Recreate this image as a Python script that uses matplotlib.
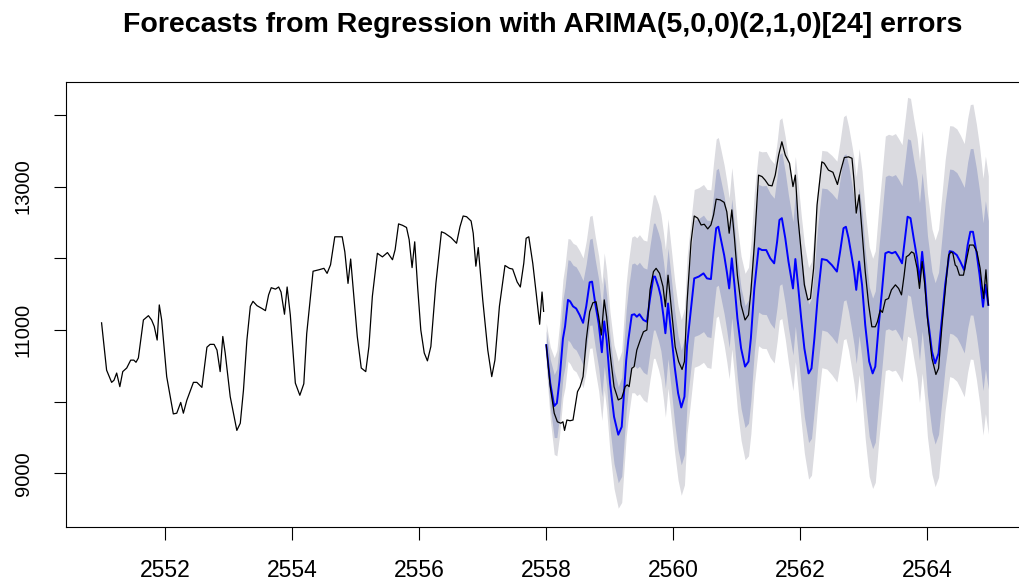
import numpy as np
import matplotlib
matplotlib.use("Agg")
import matplotlib.pyplot as plt

plt.rcParams['font.family'] = ['Liberation Sans', 'DejaVu Sans']

# hourly series, frequency 24 -> time = 2551 + hour/24
# history (training part) at its turning points
hist_hours = [0.0, 1.9, 3.8, 4.7, 5.7, 6.9, 8.0, 9.5, 11.0, 12.2,
              13.0, 13.9, 15.8, 17.7, 18.9, 19.9, 21.0, 21.8, 22.7, 24.6,
              27.1, 28.4, 29.9, 30.9, 32.2, 34.7, 36.0, 37.9, 39.8, 41.0,
              42.5, 43.6, 44.8, 45.8, 46.7, 48.6, 51.1, 52.4, 53.6, 54.9,
              56.2, 57.2, 58.7, 60.6, 61.9, 63.1, 64.1, 65.7, 66.9, 67.8,
              69.1, 70.1, 71.3, 73.2, 74.9, 76.4, 77.5, 79.9, 82.1, 84.0,
              85.2, 86.5, 88.1, 90.9, 91.9, 93.1, 94.1, 95.3, 96.6, 98.1,
              99.8, 101.0, 102.3, 104.2, 106.1, 108.0, 109.9, 110.9, 112.2, 113.7,
              115.2, 116.2, 117.3, 118.3, 119.4, 120.6, 121.9, 123.1, 124.4, 126.3,
              128.4, 129.7, 132.0, 134.1, 135.4, 136.6, 137.9, 139.6, 140.4, 141.4,
              142.3, 144.0, 145.9, 147.4, 148.6, 150.3, 152.4, 154.1, 155.3, 157.0,
              158.2, 159.5, 160.4, 161.4, 162.9, 164.2, 165.5, 166.4, 167.0]
hist_vals = [11100, 10440, 10270, 10300, 10400, 10210, 10420, 10470, 10580, 10580,
             10550, 10610, 11140, 11200, 11140, 11050, 10860, 11350, 11140, 10350,
             9830, 9840, 9990, 9840, 10020, 10270, 10270, 10200, 10760, 10800,
             10800, 10720, 10420, 10910, 10680, 10070, 9600, 9700, 10160, 10860,
             11330, 11400, 11340, 11300, 11270, 11490, 11590, 11570, 11600, 11530,
             11220, 11600, 11210, 10260, 10090, 10250, 10950, 11820, 11840, 11860,
             11790, 11910, 12300, 12300, 12090, 11650, 11990, 11470, 10910, 10470,
             10420, 10770, 11470, 12070, 12020, 12080, 11980, 12120, 12480, 12460,
             12430, 12260, 11870, 12230, 11600, 11000, 10680, 10570, 10770, 11650,
             12370, 12350, 12290, 12210, 12440, 12590, 12580, 12520, 12350, 11890,
             12150, 11420, 10720, 10350, 10580, 11330, 11900, 11860, 11850, 11670,
             11600, 11930, 12280, 12300, 11930, 11510, 11080, 11530, 11260]

# observed values over the forecast horizon
test_hours = [168.0, 169.5, 171.0, 172.2, 173.5, 174.3, 174.9, 175.8, 177.0, 178.1,
              178.9, 179.8, 180.8, 181.9, 183.1, 184.4, 185.6, 186.8, 187.8, 188.8,
              189.9, 190.8, 192.1, 193.6, 195.2, 196.5, 197.8, 198.6, 199.3, 200.3,
              201.2, 202.2, 203.5, 204.7, 206.0, 207.2, 208.5, 209.5, 210.8, 212.1,
              213.0, 214.0, 215.2, 216.7, 218.0, 219.3, 220.2, 221.2, 222.7, 223.9,
              225.2, 226.5, 227.7, 229.0, 230.2, 231.2, 232.2, 233.7, 235.2, 236.2,
              237.1, 238.1, 239.1, 240.2, 241.6, 243.1, 244.4, 245.3, 246.6, 248.2,
              249.5, 250.7, 252.0, 253.3, 254.5, 255.8, 257.0, 258.3, 259.9, 261.2,
              262.1, 263.1, 264.3, 265.5, 266.8, 267.8, 269.0, 270.3, 272.1, 273.0,
              274.6, 276.3, 278.0, 279.3, 280.6, 282.2, 283.5, 284.3, 285.1, 286.2,
              287.3, 288.5, 289.8, 291.0, 292.3, 293.1, 294.2, 295.0, 296.1, 297.3,
              298.4, 299.9, 301.1, 302.2, 303.2, 304.0, 305.0, 306.0, 306.9, 308.1,
              309.0, 310.0, 311.0, 312.0, 313.7, 315.2, 316.2, 317.5, 318.7, 320.0,
              320.9, 321.6, 322.5, 323.1, 324.1, 325.6, 326.9, 327.9, 329.4, 330.7,
              331.9, 333.2, 334.1, 335.0]
test_vals = [10790, 10210, 9840, 9720, 9700, 9720, 9600, 9745, 9735, 9745,
             9930, 10140, 10210, 10350, 10860, 11255, 11380, 11395, 11185, 10930,
             11420, 11185, 10675, 10210, 10025, 10050, 10210, 10235, 10210, 10465,
             10490, 10720, 10860, 10975, 11000, 11560, 11815, 11860, 11790, 11605,
             11325, 11765, 11325, 10765, 10560, 10450, 10560, 11395, 12230, 12590,
             12560, 12465, 12475, 12410, 12465, 12605, 12825, 12815, 12780, 12650,
             12350, 12675, 12280, 11765, 11350, 11140, 11210, 11535, 12185, 13160,
             13140, 13090, 13020, 13010, 13160, 13440, 13625, 13440, 13325, 13000,
             13160, 12560, 12090, 11630, 11420, 11440, 11860, 12745, 13345, 13325,
             13230, 13200, 13030, 13230, 13405, 13415, 13395, 13070, 12630, 12885,
             12370, 11815, 11350, 11045, 11045, 11115, 11280, 11245, 11420, 11440,
             11560, 11630, 11580, 11490, 11765, 12020, 12045, 12090, 12070, 11860,
             11580, 11955, 11630, 11165, 10605, 10380, 10465, 11070, 11535, 12045,
             12090, 12070, 11905, 11885, 11765, 11765, 12000, 12185, 12185, 12090,
             11860, 11440, 11840, 11350]

# point forecast and the half-widths of the 80% / 95% intervals
fc_hours = [168.0, 169.5, 171.0, 172.0, 173.0, 174.3, 175.1, 176.2, 177.0, 178.1,
            179.3, 180.6, 181.9, 183.1, 184.4, 185.3, 186.5, 187.8, 189.0, 189.9,
            190.8, 192.1, 193.6, 195.2, 196.5, 198.2, 199.0, 200.3, 201.3, 202.2,
            203.2, 204.7, 206.0, 207.2, 208.5, 209.1, 210.4, 211.3, 212.3, 213.0,
            214.0, 215.2, 216.5, 217.8, 219.0, 220.2, 221.2, 222.4, 223.9, 225.6,
            227.4, 228.7, 230.2, 231.2, 232.2, 233.0, 233.9, 235.2, 236.2, 237.1,
            238.1, 239.1, 240.2, 241.6, 243.1, 244.4, 245.3, 246.6, 248.2, 249.5,
            251.1, 252.6, 254.1, 255.2, 256.1, 257.0, 258.3, 259.5, 261.2, 262.1,
            263.1, 264.3, 265.5, 267.1, 268.2, 269.3, 270.5, 272.1, 274.0, 275.9,
            277.8, 279.0, 280.3, 281.2, 282.2, 283.5, 284.3, 285.1, 286.2, 287.3,
            288.5, 290.0, 291.3, 292.3, 293.6, 294.8, 296.1, 297.3, 298.6, 299.9,
            301.1, 302.4, 303.7, 304.5, 305.6, 306.8, 308.1, 309.0, 310.0, 311.0,
            312.0, 313.7, 314.9, 316.2, 317.5, 318.7, 320.4, 321.6, 323.1, 324.4,
            325.9, 327.2, 328.2, 329.2, 330.5, 331.7, 333.0, 333.9, 335.0]
fc_mean = [10790, 10260, 9940, 9980, 10300, 10880, 11050, 11420, 11400, 11330,
           11300, 11210, 11100, 11330, 11665, 11675, 11370, 11090, 10690, 11120,
           10860, 10260, 9790, 9540, 9650, 10580, 10860, 11210, 11220, 11185,
           11220, 11140, 11115, 11440, 11745, 11745, 11600, 11465, 11185, 10955,
           11370, 10955, 10490, 10120, 9920, 10070, 10790, 11200, 11720, 11745,
           11790, 11720, 11710, 12090, 12420, 12440, 12280, 12045, 11815, 11580,
           12000, 11630, 11165, 10745, 10490, 10560, 10885, 11580, 12140, 12115,
           12115, 12000, 11930, 12230, 12535, 12560, 12280, 11955, 11580, 11990,
           11630, 11165, 10745, 10395, 10465, 10885, 11440, 11990, 11975, 11905,
           11815, 12090, 12420, 12440, 12280, 12000, 11815, 11560, 11955, 11630,
           11070, 10560, 10395, 10490, 11070, 11535, 12070, 12090, 12070, 12090,
           12020, 11930, 12325, 12580, 12560, 12280, 12000, 11675, 12090, 11720,
           11210, 10700, 10535, 10675, 11165, 11630, 12100, 12090, 12045, 11955,
           11835, 12185, 12370, 12370, 12090, 11770, 11325, 11630, 11350]
fc_half80 = [200, 330, 440, 480, 510, 540, 555, 560, 570, 575,
             580, 585, 590, 595, 600, 605, 610, 615, 620, 625,
             630, 640, 655, 670, 690, 700, 705, 710, 715, 720,
             725, 730, 735, 740, 745, 745, 750, 755, 760, 765,
             770, 775, 785, 795, 800, 805, 805, 810, 810, 810,
             812, 812, 815, 815, 815, 815, 818, 820, 822, 825,
             828, 830, 835, 840, 850, 860, 870, 880, 890, 895,
             900, 905, 908, 910, 912, 915, 920, 925, 930, 935,
             940, 945, 955, 965, 975, 980, 985, 990, 995, 1000,
             1005, 1010, 1015, 1018, 1020, 1022, 1025, 1028, 1030, 1035,
             1040, 1045, 1050, 1055, 1060, 1065, 1070, 1072, 1075, 1078,
             1080, 1083, 1086, 1088, 1090, 1093, 1096, 1100, 1103, 1106,
             1110, 1118, 1125, 1130, 1135, 1140, 1145, 1148, 1150, 1152,
             1155, 1158, 1160, 1162, 1165, 1168, 1170, 1172, 1175]
fc_half95 = [305, 505, 675, 735, 780, 825, 850, 855, 870, 880,
             885, 895, 905, 910, 920, 925, 935, 940, 950, 955,
             965, 980, 1000, 1025, 1055, 1070, 1080, 1085, 1095, 1100,
             1110, 1115, 1125, 1130, 1140, 1140, 1150, 1155, 1165, 1170,
             1180, 1185, 1200, 1215, 1225, 1230, 1230, 1240, 1240, 1240,
             1240, 1240, 1245, 1245, 1245, 1245, 1250, 1255, 1260, 1260,
             1265, 1270, 1280, 1285, 1300, 1315, 1330, 1345, 1360, 1370,
             1375, 1385, 1390, 1390, 1395, 1400, 1410, 1415, 1425, 1430,
             1440, 1445, 1460, 1475, 1490, 1500, 1505, 1515, 1520, 1530,
             1540, 1545, 1555, 1560, 1560, 1565, 1570, 1575, 1575, 1585,
             1590, 1600, 1605, 1615, 1620, 1630, 1635, 1640, 1645, 1650,
             1650, 1655, 1660, 1665, 1670, 1670, 1675, 1685, 1690, 1690,
             1700, 1710, 1720, 1730, 1735, 1745, 1750, 1755, 1760, 1765,
             1765, 1770, 1775, 1780, 1780, 1785, 1790, 1795, 1800]

start_year = 2551
per_day = 24
x_ticks = [2552, 2554, 2556, 2558, 2560, 2562, 2564]
y_ticks = [9000, 10000, 11000, 12000, 13000, 14000]
y_labels = ['9000', '', '11000', '', '13000', '']
title = 'Forecasts from Regression with ARIMA(5,0,0)(2,1,0)[24] errors'

t_hist = start_year + np.array(hist_hours) / per_day
t_test = start_year + np.array(test_hours) / per_day
t_fc = start_year + np.array(fc_hours) / per_day
mean = np.array(fc_mean)
h80 = np.array(fc_half80)
h95 = np.array(fc_half95)

fig = plt.figure(figsize=(10.19, 5.83), dpi=100)
ax = fig.add_axes([66 / 1019, 56.3 / 583, 958 / 1019, 445 / 583])

ax.fill_between(t_fc, mean - h95, mean + h95, color='#DBDBE0', lw=0)
ax.fill_between(t_fc, mean - h80, mean + h80, color='#B1B6D0', lw=0)
ax.plot(t_hist, hist_vals, color='black', lw=0.9)
ax.plot(t_fc, mean, color='#0000FF', lw=1.4)
ax.plot(t_test, test_vals, color='black', lw=0.9)

ax.set_xlim(2550.44, 2565.52)
ax.set_ylim(8257, 14463)
ax.set_xticks(x_ticks)
ax.set_xticklabels([str(v) for v in x_ticks])
ax.set_yticks(y_ticks)
ax.set_yticklabels(y_labels, rotation=90, va='center')
ax.tick_params(direction='out', length=9, width=0.8)
ax.tick_params(axis='x', labelsize=16.5, pad=14)
ax.tick_params(axis='y', labelsize=14.5, pad=15)
for s in ax.spines.values():
    s.set_linewidth(0.8)

fig.text(543 / 1019, 1 - 25 / 583, title, ha='center', va='center',
         fontsize=20.5, fontweight='bold')

fig.savefig('out.png', dpi=100)
